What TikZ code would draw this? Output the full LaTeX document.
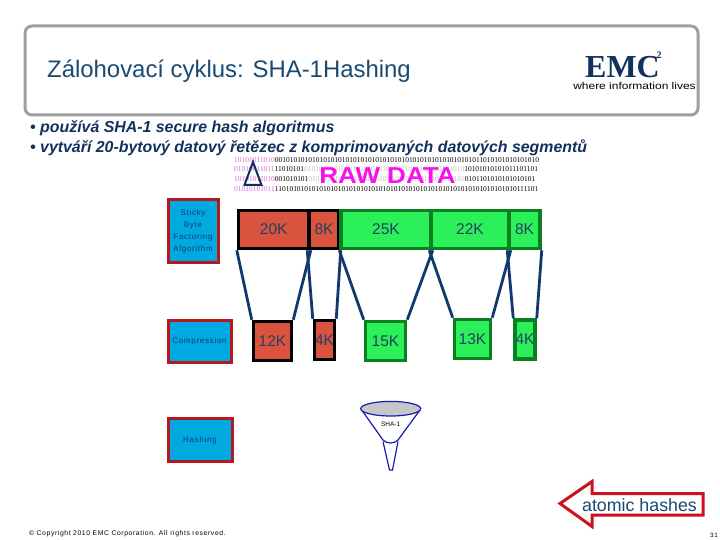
\documentclass[tikz,border=0pt]{standalone}
\usepackage{fontspec}
\setmainfont{Liberation Sans}
\newfontfamily\bitfont{Liberation Serif}
\newfontfamily\logofont{Liberation Serif}
\newfontfamily\widefont[LetterSpace=9]{Liberation Sans}
\definecolor{titleblue}{HTML}{1A4A73}
\definecolor{bulletblue}{HTML}{12305C}
\definecolor{segred}{HTML}{D9533F}
\definecolor{seggreen}{HTML}{2CF05A}
\definecolor{darkgreen}{HTML}{0A8020}
\definecolor{linkblue}{HTML}{12396F}
\definecolor{blocktext}{HTML}{26405F}
\definecolor{stagecyan}{HTML}{00A9E0}
\definecolor{stagered}{HTML}{B5181F}
\definecolor{arrowred}{HTML}{CC1122}
\definecolor{funnelblue}{HTML}{1A1AB0}
\definecolor{bitpink}{HTML}{D86AD8}
\definecolor{rawpink}{HTML}{F810F0}
\tikzset{
    stage/.style={draw=stagered,fill=stagecyan,line width=3pt,inner sep=0pt,align=center,
        text=linkblue,font=\widefont\fontsize{8}{12}\selectfont},
    block/.style={line width=3.5pt,inner sep=0pt,text=blocktext,font=\fontsize{15.5}{18}\selectfont},
    redblock/.style={block,draw=black,fill=segred},
    greenblock/.style={block,draw=darkgreen,fill=seggreen},
    link/.style={draw=linkblue,line width=2.8pt},
    bits/.style={anchor=west,inner sep=0pt,font=\bitfont\fontsize{7.45}{8}\selectfont},
}
\begin{document}
\begin{tikzpicture}[x=1pt,y=-1pt]
    \useasboundingbox (0,0) rectangle (720,540);

    \draw[draw=gray!75,line width=3pt,rounded corners=7pt,fill=white] (25,26) rectangle (698,115);
    \node[anchor=west,inner sep=0pt,text=titleblue,font=\fontsize{23.9}{28}\selectfont] (title) at (47,71.5)
        {Zálohovací cyklus: SHA-1Hashing};
    \node[inner sep=0pt,text=bulletblue,font=\logofont\bfseries\fontsize{32}{32}\selectfont] (emc) at (622.5,67) {EMC};
    \node[inner sep=0pt,text=bulletblue,font=\logofont\bfseries\fontsize{10}{10}\selectfont] (squared) at (659,55) {2};
    \node[inner sep=0pt,font=\fontsize{9}{10}\selectfont] (slogan) at (634.5,86) {\scalebox{1.33}[1.1]{where information lives}};

    \node[anchor=west,inner sep=0pt,text=bulletblue,font=\bfseries\itshape\fontsize{15.9}{18}\selectfont] (bulleta) at (30,128)
        {• používá SHA-1 secure hash algoritmus};
    \node[anchor=west,inner sep=0pt,text=bulletblue,font=\bfseries\itshape\fontsize{15.9}{18}\selectfont] (bulletb) at (30,148)
        {• vytváří 20-bytový datový řetězec z komprimovaných datových segmentů};

    \node[bits] (bitsa) at (234,160) {\textcolor{bitpink}{10101011010}00101010101010101010101010101010101010101010101010101011010101010101010};
    \node[bits] (bitsb) at (234,169) {\textcolor{bitpink}{01010011011}11010101\textcolor{black!25}{0101010101010101010101010101010101010101010}10101010101011101101};
    \node[bits] (bitsc) at (234,179) {\textcolor{bitpink}{10101011010}001010101\textcolor{black!25}{010101010101010101010101010101010101010101}0101101010101010101};
    \node[bits] (bitsd) at (234,189) {\textcolor{bitpink}{01010101011}11010101010101010101010101010101010101010101010101010101010101010111101};
    \node[inner sep=0pt,text=rawpink,font=\bfseries\fontsize{23}{25}\selectfont] (rawdata) at (387.5,176) {\scalebox{1.13}[1]{RAW DATA}};
    \draw[draw=bulletblue,line width=2pt] (253,162) -- (244.5,185) -- (261.5,185) -- cycle;

    \node[stage,minimum width=50pt,minimum height=62pt] (sticky) at (193,231) {Sticky\\Byte\\Factoring\\Algorithm};
    \node[stage,minimum width=63pt,minimum height=42pt] (compress) at (199.5,341) {Compression};
    \node[stage,minimum width=64pt,minimum height=43pt] (hashing) at (200,440) {Hashing};

    % top row, then the compressed row
    \foreach \nm/\xx/\ww/\sty/\lab in {sega/273.75/70.5/redblock/20K,segb/324/30/redblock/8K,
        segc/386/90/greenblock/25K,segd/470/78/greenblock/22K,sege/524.5/31/greenblock/8K}{
        \node[\sty,minimum width=\ww pt,minimum height=38pt] (\nm) at (\xx,229.5) {\lab};
    }
    \foreach \nm/\xx/\yy/\ww/\sty/\lab in {compa/272.5/341/38/redblock/12K,compb/324.5/340/20/redblock/4K,
        compc/385.5/341/40/greenblock/15K,compd/472.5/339/36/greenblock/13K,compe/525/339.5/20/greenblock/4K}{
        \node[\sty,minimum width=\ww pt,minimum height=39pt] (\nm) at (\xx,\yy) {\lab};
    }
    \foreach \top/\bot in {sega/compa,segb/compb,segc/compc,segd/compd,sege/compe}{
        \draw[link] (\top.south west) -- (\bot.north west);
        \draw[link] (\top.south east) -- (\bot.north east);
    }

    % funnel
    \draw[draw=funnelblue,line width=1.2pt,fill=white] (361.7,410) -- (383,440)
        .. controls (387,444) and (394,444) .. (398,440) -- (420,410);
    \draw[draw=funnelblue,line width=1.2pt] (383,441.5) -- (389.5,470) -- (392.5,470) -- (398,441.5);
    \draw[draw=funnelblue,line width=1.2pt,fill=black!22] (390.7,408.7) ellipse (30 and 7.3);
    \node[inner sep=0pt,font=\fontsize{6.5}{8}\selectfont] (shaone) at (390.7,424.3) {SHA-1};

    % callout
    \draw[draw=arrowred,line width=3pt,fill=white,line join=miter]
        (560,503.5) -- (592,481.5) -- (592,493.5) -- (703,493.5) -- (703,515) -- (592,515) -- (592,526.5) -- cycle;
    \node[inner sep=0pt,text=titleblue,font=\fontsize{17.8}{20}\selectfont] (hashes) at (639.5,505) {atomic hashes};

    \node[anchor=west,inner sep=0pt,font=\widefont\fontsize{6.8}{8}\selectfont] (copyright) at (29,534)
        {© Copyright 2010 EMC Corporation. All rights reserved.};
    \node[anchor=east,inner sep=0pt,font=\widefont\fontsize{6.3}{8}\selectfont] (pagenum) at (718,535) {31};
\end{tikzpicture}
\end{document}
